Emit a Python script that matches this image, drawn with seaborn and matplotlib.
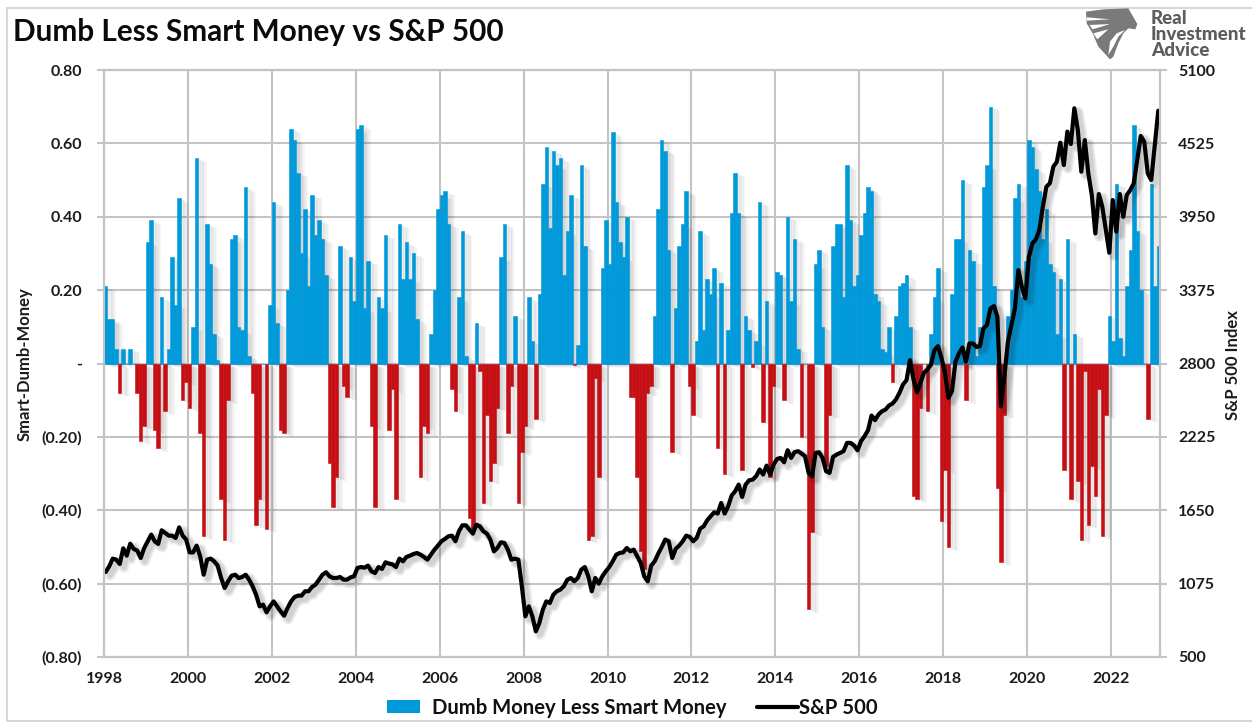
import pandas as pd
import seaborn as sns
import matplotlib.pyplot as plt
import matplotlib.patheffects as pe
from matplotlib.lines import Line2D
from matplotlib.patches import Patch, Polygon, Rectangle

# Dumb less smart money, monthly
money = [
    0.21, 0.12, 0.12, 0.04, -0.08, 0.04, 0, 0.04, 0, -0.08, -0.21, -0.17,
    0.33, 0.39, -0.18, -0.23, 0.18, -0.13, 0.04, 0.29, 0.16, 0.45, -0.10, -0.05,
    -0.12, 0.10, 0.56, -0.19, -0.47, 0.38, 0.27, 0.08, 0.01, -0.37, -0.48, -0.10,
    0.34, 0.35, 0.10, 0.09, 0.48, 0.02, -0.08, -0.44, -0.37, 0, -0.45, 0.16,
    0.44, 0.11, -0.18, -0.19, 0.20, 0.64, 0.61, 0.52, 0.30, 0.42, 0.21, 0.46,
    0.35, 0.39, 0.34, 0.24, -0.27, -0.39, -0.31, 0.32, -0.06, -0.09, 0.29, 0.17,
    0.64, 0.65, 0.15, 0.28, -0.17, -0.39, 0.18, 0.15, 0.35, -0.18, -0.07, -0.37,
    0.38, 0.23, 0.33, 0.23, 0.30, 0.12, -0.31, -0.17, -0.19, 0.08, 0.20, 0.42,
    0.46, 0.47, 0.38, -0.07, -0.13, 0.18, 0.36, 0.02, -0.42, -0.45, 0.11, -0.02,
    -0.38, -0.14, -0.32, -0.27, -0.12, 0.29, 0.38, -0.19, -0.06, 0.13, -0.38, -0.24,
    -0.17, 0.18, 0.06, -0.15, 0.19, 0.49, 0.59, 0.37, 0.58, 0.54, 0.56, 0.24,
    0.36, 0.46, -0.005, 0.05, 0.54, 0.32, -0.48, -0.47, -0.04, -0.31, 0.26, 0.39,
    0.27, 0.63, 0.44, 0.33, 0.29, 0.40, -0.09, -0.09, -0.31, -0.51, -0.56, -0.08,
    -0.06, 0.13, 0.42, 0.61, 0.58, 0.31, -0.24, 0.15, 0.32, 0.38, 0.47, -0.06,
    -0.14, 0.06, 0.36, 0.09, 0.23, 0.19, 0.26, -0.23, 0.22, -0.30, 0.09, 0.41,
    0.52, 0.41, -0.29, 0.13, 0.09, -0.01, 0.06, 0.44, -0.16, 0.17, -0.31, -0.06,
    0.25, 0.24, -0.10, 0.40, 0.17, 0.34, 0.04, -0.20, 0, -0.67, -0.46, 0.27,
    0.31, 0.10, -0.28, -0.14, 0.32, 0.38, 0.38, 0.18, 0.54, 0.39, 0.21, 0.24,
    0.35, 0.41, 0.48, 0.47, 0.19, 0.17, 0.04, 0.03, 0.10, -0.05, 0.13, 0.21,
    0.22, 0.24, 0.10, -0.36, -0.37, -0.12, 0, -0.13, 0.08, 0.18, 0.26, -0.43,
    -0.29, -0.50, 0.19, 0.34, 0.34, 0.50, -0.10, 0.31, 0.28, 0.02, 0.10, 0.48,
    0.54, 0.70, 0.21, -0.34, -0.54, -0.14, 0.13, 0.20, 0.45, 0.49, 0.18, 0.28,
    0.61, 0.59, 0.53, 0.47, 0.34, 0.42, 0.27, 0.25, 0.08, 0.23, -0.29, 0.34,
    -0.37, 0.08, -0.32, -0.48, -0.02, -0.44, -0.28, -0.36, -0.07, -0.47, -0.14, 0.13,
    0.06, 0.49, 0.07, 0.02, 0.21, 0.31, 0.65, 0.36, 0.20, 0, -0.15, 0.49,
    0.21, 0.32,
]

# S&P 500 line, same months
spx = [
    1166, 1211, 1271, 1263, 1229, 1352, 1294, 1388, 1347, 1334, 1276, 1354,
    1407, 1459, 1407, 1386, 1493, 1472, 1451, 1451, 1433, 1516, 1451, 1420,
    1320, 1320, 1373, 1289, 1145, 1263, 1271, 1250, 1216, 1119, 1041, 1093,
    1137, 1145, 1119, 1127, 1145, 1106, 1054, 988, 897, 910, 850, 897,
    936, 897, 858, 824, 884, 936, 970, 981, 981, 1015, 1015, 1049,
    1067, 1106, 1145, 1164, 1132, 1119, 1119, 1127, 1106, 1106, 1124, 1132,
    1198, 1205, 1200, 1216, 1171, 1158, 1205, 1190, 1242, 1232, 1226, 1205,
    1271, 1250, 1284, 1294, 1307, 1315, 1302, 1284, 1263, 1302, 1341, 1373,
    1407, 1425, 1446, 1451, 1407, 1485, 1532, 1532, 1498, 1467, 1537, 1524,
    1485, 1467, 1420, 1328, 1354, 1399, 1394, 1341, 1263, 1271, 1263, 1054,
    819, 897, 819, 701, 766, 871, 936, 923, 988, 1015, 1028, 1054,
    1106, 1119, 1093, 1119, 1185, 1205, 1132, 1015, 1119, 1075, 1132, 1171,
    1205, 1250, 1302, 1315, 1320, 1354, 1328, 1341, 1289, 1237, 1132, 1093,
    1216, 1250, 1310, 1362, 1420, 1407, 1276, 1347, 1373, 1407, 1451, 1441,
    1407, 1433, 1506, 1524, 1571, 1603, 1634, 1624, 1707, 1624, 1681, 1765,
    1799, 1851, 1754, 1851, 1885, 1890, 1916, 1969, 1930, 2000, 1930, 2008,
    2052, 2060, 2026, 2120, 2060, 2105, 2113, 2094, 2073, 1943, 1916, 2099,
    2105, 2060, 1956, 1943, 2068, 2086, 2099, 2113, 2178, 2178, 2157, 2120,
    2191, 2230, 2277, 2392, 2356, 2400, 2426, 2439, 2471, 2486, 2518, 2570,
    2635, 2669, 2826, 2675, 2575, 2648, 2727, 2753, 2790, 2905, 2936, 2845,
    2727, 2531, 2583, 2813, 2878, 2925, 2813, 2957, 2957, 2930, 2936, 3074,
    3100, 3231, 3250, 3166, 2465, 2700, 2970, 3100, 3231, 3532, 3400, 3310,
    3636, 3741, 3772, 3846, 4029, 4185, 4212, 4342, 4381, 4530, 4355, 4617,
    4520, 4800, 4630, 4303, 4551, 4290, 4120, 3819, 4128, 4029, 3846, 3668,
    4081, 3833, 4128, 3950, 4120, 4159, 4212, 4395, 4583, 4538, 4290, 4238,
    4512, 4781,
]

year_labels = [str(y) for y in range(1998, 2024, 2)]
left_ticks = [0.8, 0.6, 0.4, 0.2, 0, -0.2, -0.4, -0.6, -0.8]
left_labels = ['0.80', '0.60', '0.40', '0.20', '-', '(0.20)', '(0.40)', '(0.60)', '(0.80)']
right_ticks = [500, 1075, 1650, 2225, 2800, 3375, 3950, 4525, 5100]

months = pd.date_range('1998-01-01', periods=len(money), freq='MS').strftime('%Y-%m')
df = pd.DataFrame({'month': months, 'money': money, 'spx': spx})
df['sign'] = ['up' if v >= 0 else 'down' for v in df['money']]

BLUE = '#0099DA'
RED = '#C60F14'
GRID = '#C4C4C4'
TEXT = '#1c1c1c'

sns.set_theme(style='white')
plt.rcParams['font.family'] = ['Lato', 'DejaVu Sans']
plt.rcParams['font.weight'] = 'bold'

W, H = 1252, 724
fig = plt.figure(figsize=(W / 100, H / 100), dpi=100)
ax = fig.add_axes([104 / W, 1 - 657 / H, 1056 / W, 587 / H])

sns.barplot(data=df, x='month', y='money', hue='sign', palette={'up': BLUE, 'down': RED},
            dodge=False, width=1, saturation=1, legend=False, ax=ax)

# soft shadow behind the bars
bar_shadow = [pe.SimplePatchShadow(offset=o, shadow_rgbFace='k', alpha=0.04)
              for o in [(6, -3), (5, -2.5), (4, -2), (3, -1.5), (2, -1)]] + [pe.Normal()]
for p in ax.patches:
    p.set_edgecolor(p.get_facecolor())
    p.set_linewidth(0.4)
    p.set_path_effects(bar_shadow)

ax.set_xlim(-0.5, len(money) - 0.5)
ax.set_ylim(-0.8, 0.8)
ticks = [list(months).index(y + '-01') - 0.5 for y in year_labels]
ax.set_xticks(ticks)
ax.set_xticklabels(year_labels)
ax.set_yticks(left_ticks)
ax.set_yticklabels(left_labels)
ax.set_xlabel('')
ax.set_ylabel('')
ax.grid(True, color=GRID, lw=1.5)
ax.set_axisbelow(True)
ax.tick_params(axis='x', length=0, pad=11, labelsize=11.5, labelcolor=TEXT)
ax.tick_params(axis='y', length=5, width=1.5, color=GRID, pad=11, labelsize=11.5, labelcolor=TEXT, left=True)
for s in ax.spines.values():
    s.set_color(GRID)
    s.set_linewidth(1.5)

ax2 = ax.twinx()
sns.lineplot(data=df, x='month', y='spx', color='black', lw=3, ax=ax2, sort=False, errorbar=None)
ax2.lines[0].set_path_effects(
    [pe.Stroke(linewidth=w, foreground='k', alpha=0.07, offset=(3, -2.5)) for w in (7.5, 5.5, 3.5)] + [pe.Normal()])
ax2.set_ylim(500, 5100)
ax2.set_xlim(-0.5, len(money) - 0.5)
ax2.set_yticks(right_ticks)
ax2.set_yticklabels([str(t) for t in right_ticks])
ax2.set_xlabel('')
ax2.set_ylabel('')
ax2.grid(False)
ax2.tick_params(axis='y', length=5, width=1.5, color=GRID, pad=8, labelsize=11.5, labelcolor=TEXT, right=True)
for s in ax2.spines.values():
    s.set_color(GRID)
    s.set_linewidth(1.5)

fig.text(13 / W, 1 - 32 / H, 'Dumb Less Smart Money vs S&P 500', fontsize=21.4, fontweight='bold',
         color='#0a0a0a', va='center', ha='left')
fig.text(25 / W, 1 - 364 / H, 'Smart-Dumb-Money', rotation=90, fontsize=12, color=TEXT,
         va='center', ha='center')
fig.text(1233 / W, 1 - 365 / H, 'S&P 500 Index', rotation=90, fontsize=12, color=TEXT,
         va='center', ha='center')

leg_a = fig.legend(handles=[Patch(facecolor=BLUE, edgecolor='none', label='Dumb Money Less Smart Money')],
                   loc='center left', bbox_to_anchor=(387 / W, 1 - 708 / H), frameon=False,
                   prop={'size': 14.6, 'weight': 'bold'}, labelcolor='#111111', handlelength=1.65,
                   handleheight=0.6, handletextpad=0.55, borderpad=0, borderaxespad=0)
leg_b = fig.legend(handles=[Line2D([0], [0], color='black', lw=3, label='S&P 500')],
                   loc='center left', bbox_to_anchor=(757 / W, 1 - 708 / H), frameon=False,
                   prop={'size': 14.6, 'weight': 'bold'}, labelcolor='#111111', handlelength=2.0,
                   handletextpad=0.05, borderpad=0, borderaxespad=0)

# chart frame
fig.add_artist(Rectangle((7 / W, 1 - 721 / H), 1260 / W, 713 / H, transform=fig.transFigure,
                         fill=False, edgecolor='#cfcfcf', lw=1.2))

# logo: grey eagle head and wordmark
def logo_xy(pts):
    return [((1060 + x / 3) / W, 1 - (y / 3) / H) for x, y in pts]

fig.add_artist(Polygon(logo_xy([(78, 35), (130, 28), (205, 25), (232, 72), (226, 88), (205, 85), (190, 100),
                                (175, 130), (160, 170), (150, 178), (115, 140), (98, 100), (80, 70)]),
                       transform=fig.transFigure, facecolor='#7a7a7a', edgecolor='none'))
fig.add_artist(Polygon(logo_xy([(145, 165), (150, 125), (170, 100), (195, 90), (175, 110), (160, 140)]),
                       transform=fig.transFigure, facecolor='white', edgecolor='none'))
for pts in [[(80, 52), (150, 58), (80, 62)], [(88, 75), (150, 72), (98, 88)], [(100, 100), (145, 88), (112, 118)]]:
    fig.add_artist(Polygon(logo_xy(pts), transform=fig.transFigure, facecolor='white', edgecolor='none'))
for i, word in enumerate(['Real', 'Investment', 'Advice']):
    fig.text(1151 / W, 1 - (18 + i * 16.5) / H, word, fontsize=13.6, fontweight='black', color='#5c5c5c',
             va='center', ha='left')

fig.savefig('out.png', dpi=100)
